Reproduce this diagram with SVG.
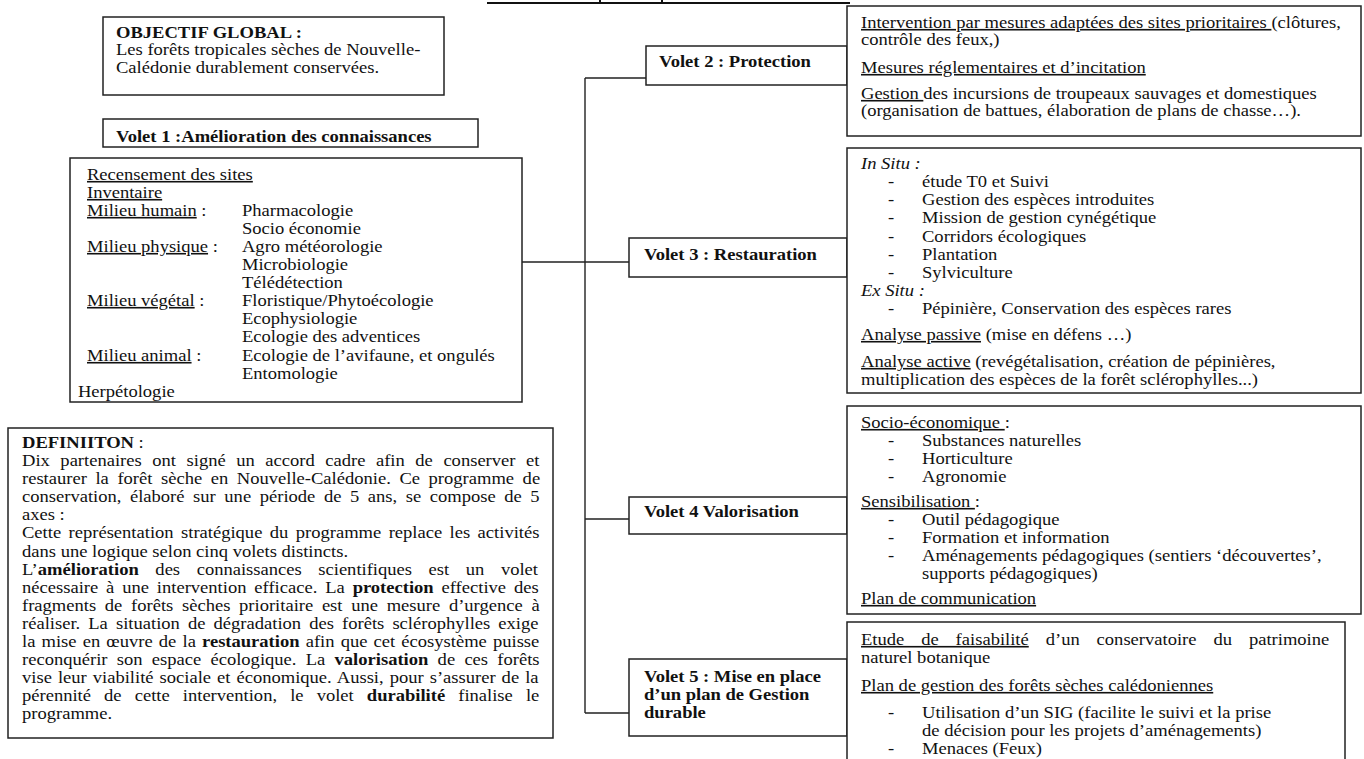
<svg xmlns="http://www.w3.org/2000/svg" width="1364" height="759" viewBox="0 0 1364 759">
<style>
.t{font-family:"Liberation Serif","Times New Roman",serif;font-size:16px;fill:#111}
.b{font-weight:bold}
.u{text-decoration:underline}
.i{font-style:italic}
.box{fill:#fff;stroke:#222;stroke-width:1.5}
.conn{fill:none;stroke:#222;stroke-width:1.4}
.rule{fill:none;stroke:#111;stroke-width:2}
</style>
<rect width="1364" height="759" fill="#fff"/>
<g id="top-rule"><path class="rule" d="M487 3H850M600 0V4M662 0V4"/></g>
<g id="connectors">
<path class="conn" d="M585 78V713M585 78H646M522 262H629M585 519H629M585 713H629"/>
</g>
<g id="objectif">
<rect class="box" x="103" y="17" width="341" height="78"/>
<g class="t" transform="translate(116 0) scale(1.16 1)">
<text class="b" x="0" y="38">OBJECTIF GLOBAL :</text>
<text x="0" y="55">Les forêts tropicales sèches de Nouvelle-</text>
<text x="0" y="73">Calédonie durablement conservées.</text>
</g>
</g>
<g id="volet1">
<rect class="box" x="103" y="119" width="375" height="28"/>
<g class="t" transform="translate(116 0) scale(1.16 1)">
<text class="b" x="0" y="142">Volet 1 :Amélioration des connaissances</text>
</g>
</g>
<g id="volet1-details">
<rect class="box" x="70" y="158" width="452" height="244"/>
<g class="t" transform="translate(87 0) scale(1.16 1)">
<text x="0" y="180"><tspan class="u">Recensement des sites</tspan></text>
<text x="0" y="198"><tspan class="u">Inventaire</tspan></text>
<text x="0" y="216"><tspan class="u">Milieu humain</tspan> :</text>
<text x="133.6" y="216">Pharmacologie</text>
<text x="133.6" y="234">Socio économie</text>
<text x="0" y="252"><tspan class="u">Milieu physique</tspan> :</text>
<text x="133.6" y="252">Agro météorologie</text>
<text x="133.6" y="270">Microbiologie</text>
<text x="133.6" y="288">Télédétection</text>
<text x="0" y="306"><tspan class="u">Milieu végétal</tspan> :</text>
<text x="133.6" y="306">Floristique/Phytoécologie</text>
<text x="133.6" y="324">Ecophysiologie</text>
<text x="133.6" y="342">Ecologie des adventices</text>
<text x="0" y="361"><tspan class="u">Milieu animal</tspan> :</text>
<text x="133.6" y="361">Ecologie de l’avifaune, et ongulés</text>
<text x="133.6" y="379">Entomologie</text>
<text x="-7.8" y="397">Herpétologie</text>
</g>
</g>
<g id="definition">
<rect class="box" x="8" y="428" width="545" height="310"/>
<g class="t" transform="translate(22 0) scale(1.16 1)">
<text x="0" y="448"><tspan class="b">DEFINIITON</tspan> :</text>
<text x="0" y="466" word-spacing="5.1">Dix partenaires ont signé un accord cadre afin de conserver et</text>
<text x="0" y="484" word-spacing="3.4">restaurer la forêt sèche en Nouvelle-Calédonie. Ce programme de</text>
<text x="0" y="502" word-spacing="3.4">conservation, élaboré sur une période de 5 ans, se compose de 5</text>
<text x="0" y="520">axes :</text>
<text x="0" y="538.5" word-spacing="2.4">Cette représentation stratégique du programme replace les activités</text>
<text x="0" y="556.6">dans une logique selon cinq volets distincts.</text>
<text x="0" y="574.7" word-spacing="10.3">L’<tspan class="b">amélioration</tspan> des connaissances scientifiques est un volet</text>
<text x="0" y="592.8" word-spacing="2.8">nécessaire à une intervention efficace. La <tspan class="b">protection</tspan> effective des</text>
<text x="0" y="610.9" word-spacing="3.5">fragments de forêts sèches prioritaire est une mesure d’urgence à</text>
<text x="0" y="629" word-spacing="3">réaliser. La situation de dégradation des forêts sclérophylles exige</text>
<text x="0" y="647.1" word-spacing="1.3">la mise en œuvre de la <tspan class="b">restauration</tspan> afin que cet écosystème puisse</text>
<text x="0" y="665.2" word-spacing="4">reconquérir son espace écologique. La <tspan class="b">valorisation</tspan> de ces forêts</text>
<text x="0" y="683.3" word-spacing="1.2">vise leur viabilité sociale et économique. Aussi, pour s’assurer de la</text>
<text x="0" y="701.4" word-spacing="7.3">pérennité de cette intervention, le volet <tspan class="b">durabilité</tspan> finalise le</text>
<text x="0" y="719.5">programme.</text>
</g>
</g>
<g id="volet2">
<rect class="box" x="646" y="46" width="201" height="39"/>
<g class="t" transform="translate(659 0) scale(1.16 1)">
<text class="b" x="0" y="67">Volet 2 : Protection</text>
</g>
</g>
<g id="volet2-details">
<rect class="box" x="847" y="6" width="514" height="130"/>
<g class="t" transform="translate(861 0) scale(1.16 1)">
<text x="0" y="28"><tspan class="u">Intervention par mesures adaptées des sites prioritaires </tspan>(clôtures,</text>
<text x="0" y="45">contrôle des feux,)</text>
<text x="0" y="73"><tspan class="u">Mesures réglementaires et d’incitation</tspan></text>
<text x="0" y="99"><tspan class="u">Gestion </tspan>des incursions de troupeaux sauvages et domestiques</text>
<text x="0" y="116">(organisation de battues, élaboration de plans de chasse…).</text>
</g>
</g>
<g id="volet3">
<rect class="box" x="629" y="238" width="218" height="39"/>
<g class="t" transform="translate(644 0) scale(1.16 1)">
<text class="b" x="0" y="260">Volet 3 : Restauration</text>
</g>
</g>
<g id="volet3-details">
<rect class="box" x="847" y="148" width="514" height="245"/>
<g class="t" transform="translate(861 0) scale(1.16 1)">
<text class="i" x="0" y="169">In Situ :</text>
<text x="23.3" y="187">-</text><text x="52.6" y="187">étude T0 et Suivi</text>
<text x="23.3" y="205">-</text><text x="52.6" y="205">Gestion des espèces introduites</text>
<text x="23.3" y="223">-</text><text x="52.6" y="223">Mission de gestion cynégétique</text>
<text x="23.3" y="242">-</text><text x="52.6" y="242">Corridors écologiques</text>
<text x="23.3" y="260">-</text><text x="52.6" y="260">Plantation</text>
<text x="23.3" y="278">-</text><text x="52.6" y="278">Sylviculture</text>
<text class="i" x="0" y="296">Ex Situ :</text>
<text x="23.3" y="314">-</text><text x="52.6" y="314">Pépinière, Conservation des espèces rares</text>
<text x="0" y="340"><tspan class="u">Analyse passive</tspan> (mise en défens …)</text>
<text x="0" y="367"><tspan class="u">Analyse active</tspan> (revégétalisation, création de pépinières,</text>
<text x="0" y="385">multiplication des espèces de la forêt sclérophylles...)</text>
</g>
</g>
<g id="volet4">
<rect class="box" x="629" y="497" width="218" height="37"/>
<g class="t" transform="translate(644 0) scale(1.16 1)">
<text class="b" x="0" y="517">Volet 4 Valorisation</text>
</g>
</g>
<g id="volet4-details">
<rect class="box" x="847" y="406" width="514" height="208"/>
<g class="t" transform="translate(861 0) scale(1.16 1)">
<text x="0" y="428"><tspan class="u">Socio-économique </tspan>:</text>
<text x="23.3" y="446">-</text><text x="52.6" y="446">Substances naturelles</text>
<text x="23.3" y="464">-</text><text x="52.6" y="464">Horticulture</text>
<text x="23.3" y="482">-</text><text x="52.6" y="482">Agronomie</text>
<text x="0" y="507"><tspan class="u">Sensibilisation </tspan>:</text>
<text x="23.3" y="525">-</text><text x="52.6" y="525">Outil pédagogique</text>
<text x="23.3" y="543">-</text><text x="52.6" y="543">Formation et information</text>
<text x="23.3" y="561">-</text><text x="52.6" y="561">Aménagements pédagogiques (sentiers ‘découvertes’,</text>
<text x="52.6" y="579">supports pédagogiques)</text>
<text x="0" y="604"><tspan class="u">Plan de communication</tspan></text>
</g>
</g>
<g id="volet5">
<rect class="box" x="629" y="659" width="218" height="77"/>
<g class="t b" transform="translate(644 0) scale(1.16 1)">
<text x="0" y="682">Volet 5 : Mise en place</text>
<text x="0" y="700">d’un plan de Gestion</text>
<text x="0" y="718">durable</text>
</g>
</g>
<g id="volet5-details">
<rect class="box" x="847" y="622" width="498" height="150"/>
<g class="t" transform="translate(861 0) scale(1.16 1)">
<text x="0" y="645" word-spacing="10.6"><tspan class="u">Etude de faisabilité</tspan> d’un conservatoire du patrimoine</text>
<text x="0" y="663">naturel botanique</text>
<text x="0" y="691"><tspan class="u">Plan de gestion des forêts sèches calédoniennes</tspan></text>
<text x="23.3" y="718">-</text><text x="52.6" y="718">Utilisation d’un SIG (facilite le suivi et la prise</text>
<text x="52.6" y="736">de décision pour les projets d’aménagements)</text>
<text x="23.3" y="754">-</text><text x="52.6" y="754">Menaces (Feux)</text>
</g>
</g>
</svg>
